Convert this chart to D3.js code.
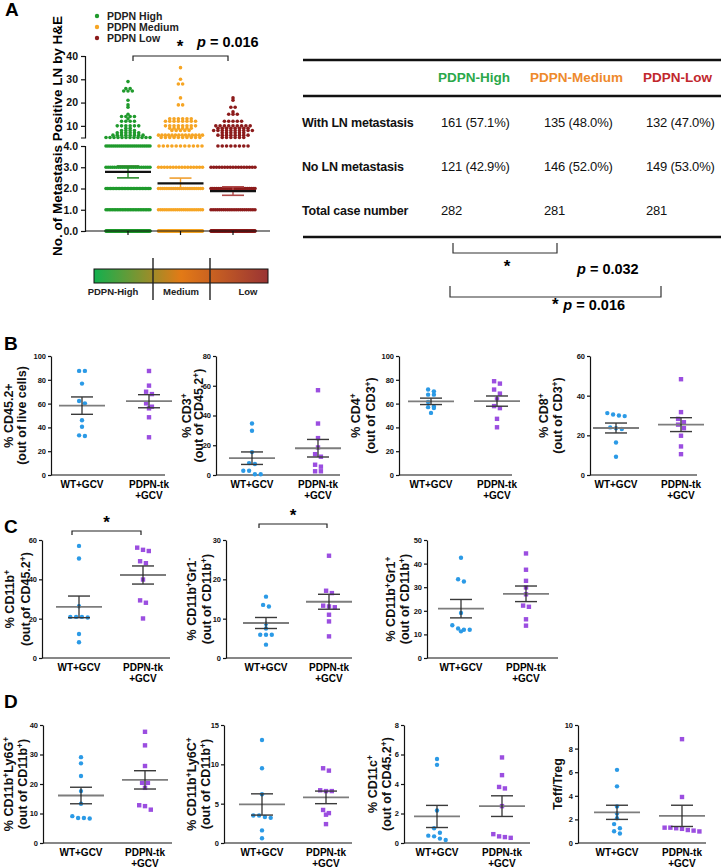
<!DOCTYPE html>
<html lang='en'>
<head>
  <meta charset='UTF-8'>
  <title>PDPN figure</title>
  <script src="https://d3js.org/d3.v7.min.js"></script>
  <style>
    body { margin: 0; background: #fff; }
    svg { display: block; font-family: 'Liberation Sans', Arial, Helvetica, sans-serif; }
  </style>
</head>
<body>
  <div id="chart"></div>
  <script>
    // ---------- Panel A : dot plot ----------
    const groupsA = ['PDPN High', 'PDPN Medium', 'PDPN Low'];
    const colorsA = ['#1f9a2c', '#f6a524', '#8c1b1b'];
    const errColorsA = ['#2a8a2a', '#f0a030', '#b04848'];
    // [positive LN, number of cases]
    const countsHigh = [[0, 121], [1, 28], [2, 30], [3, 22], [4, 24], [5, 12], [6, 8], [7, 6], [8, 4], [9, 2],
      [10, 6], [12, 4], [13, 1], [14, 4], [15, 1], [18, 1], [19, 1], [21, 1], [25, 3], [26, 2], [29, 1]];
    const countsMedium = [[0, 146], [1, 22], [2, 22], [3, 16], [4, 11], [5, 10], [6, 14], [8, 5], [9, 6],
      [10, 8], [12, 8], [13, 6], [19, 2], [22, 1], [28, 2], [30, 1], [35, 1]];
    const countsLow = [[0, 149], [1, 22], [2, 25], [3, 17], [4, 8], [5, 6], [6, 8], [7, 6], [8, 10], [9, 8],
      [10, 9], [12, 5], [15, 3], [16, 1], [18, 2], [21, 1], [22, 1]];
    const meanA = [2.78, 2.24, 1.88];
    const semA = [0.28, 0.25, 0.2];
    const ticksLowA = [0, 1, 2, 3, 4];
    const ticksHighA = [10, 20, 30, 40];

    // ---------- Panel A : table ----------
    const tableCols = ['PDPN-High', 'PDPN-Medium', 'PDPN-Low'];
    const tableColColors = ['#2aa84a', '#ee8a2c', '#c1272d'];
    const tableRows = ['With LN metastasis', 'No LN metastasis', 'Total case number'];
    const withLN = ['161 (57.1%)', '135 (48.0%)', '132 (47.0%)'];
    const noLN = ['121 (42.9%)', '146 (52.0%)', '149 (53.0%)'];
    const totals = ['282', '281', '281'];
    const barLabels = ['PDPN-High', 'Medium', 'Low'];

    // ---------- Panels B-D : WT vs PDPN-tk ----------
    const treatGroups = ['WT+GCV', 'PDPN-tk'];
    const cd45Wt = [87.5, 87.5, 76.8, 62.2, 60.2, 46, 40.6, 32.8, 33.3];
    const cd45Tk = [87.4, 75.1, 70, 68, 60.2, 57.4, 56, 48.5, 31.7];
    const cd45Stats = [[58.3, 7.3], [62.0, 5.5]]; // [mean, SEM]
    const cd3Wt = [34.6, 29.7, 15.4, 8, 7.4, 2.9, 2.9, 0.5, 0.5];
    const cd3Tk = [57, 34.6, 24.8, 18.5, 14, 12.3, 6.9, 5.6, 2.5, 2.5];
    const cd3Stats = [[11.3, 4.2], [18.0, 5.9]];
    const cd4Wt = [70.3, 71.8, 67.5, 67.5, 61.3, 57.6, 56.2, 57, 52.2];
    const cd4Tk = [78.8, 76.8, 71.8, 68.4, 63.6, 56.2, 57.9, 47.2, 40.1];
    const cd4Stats = [[61.9, 2.7], [62.1, 4.3]];
    const cd8Wt = [31.2, 30, 29.7, 30.5, 24, 23.6, 23.2, 16.4, 9.2];
    const cd8Tk = [48.3, 31.7, 28.3, 26.6, 25.4, 23.6, 19.8, 14.4, 10.5];
    const cd8Stats = [[23.7, 2.5], [25.4, 3.5]];
    const cd11bWt = [57, 50.6, 26.3, 20.9, 20.9, 20.6, 20.9, 12.2, 8];
    const cd11bTk = [56.1, 54.4, 55, 49.2, 48.2, 39.9, 29.3, 28.1, 20.1];
    const cd11bStats = [[26.0, 5.5], [42.2, 4.6]];
    const gr1NegWt = [15.6, 13.5, 13.1, 8.7, 7.5, 5.9, 5.9, 5.9, 3.4];
    const gr1NegTk = [26, 17.1, 16.5, 13.3, 12.9, 13.1, 11, 9.3, 5.5];
    const gr1NegStats = [[8.9, 1.4], [14.3, 1.9]];
    const gr1PosWt = [42.5, 33.4, 32.4, 19.1, 13.9, 12, 11.3, 12, 12.5];
    const gr1PosTk = [44.3, 37.4, 32.7, 29.9, 27, 21.7, 22.2, 16.4, 13.7];
    const gr1PosStats = [[20.9, 3.9], [27.2, 3.3]];
    const ly6gWt = [29.1, 27, 22.7, 17.6, 13.3, 8.5, 8.3, 8.5, 9.1];
    const ly6gTk = [37.7, 33.1, 26.1, 20.4, 20.4, 18.7, 12.8, 12.5, 11.3];
    const ly6gStats = [[16.1, 2.8], [21.4, 3.1]];
    const ly6cWt = [13.1, 9.5, 6.2, 3.5, 3.2, 3.3, 3.5, 1.6, 0.6];
    const ly6cTk = [9.5, 9.2, 6.7, 6.6, 6.6, 3.8, 3.6, 4.2, 2.4];
    const ly6cStats = [[4.9, 1.35], [5.8, 0.8]];
    const cd11cWt = [5.7, 5.3, 2.2, 1, 0.45, 0.7, 0.5, 0.2, 0.3];
    const cd11cTk = [5.8, 4.6, 3.7, 3.8, 2.5, 0.45, 0.35, 0.4, 0.6];
    const cd11cStats = [[1.8, 0.75], [2.5, 0.7]];
    const teffWt = [6.2, 4.8, 3.1, 2.5, 2.1, 1.6, 1.25, 1, 0.8];
    const teffTk = [8.8, 3.9, 1.3, 1.2, 0.98, 1.05, 1.25, 1.3, 1.1];
    const teffStats = [[2.6, 0.6], [2.3, 0.9]];

    const WT_COLOR = '#2b9ae6';
    const TK_COLOR = '#9b4ee0';
    const FONT_BOLD = 'bold';

    const svg = d3.select('#chart').append('svg')
      .attr('width', 721)
      .attr('height', 868);

    // superscripts are written as ^x
    function richText(text, str) {
      let raised = false;
      str.split(/(\^.)/).forEach((p) => {
        if (!p) return;
        if (p[0] === '^') {
          text.append('tspan').attr('dy', -4.5).attr('font-size', '0.68em').text(p[1]);
          raised = true;
        } else {
          text.append('tspan').attr('dy', raised ? 4.5 : 0).text(p);
          raised = false;
        }
      });
    }

    function styleAxis(g, size) {
      g.attr('font-family', null).attr('font-size', null);
      g.selectAll('text').attr('font-size', size).attr('font-weight', FONT_BOLD).attr('fill', '#111');
      g.selectAll('path, line').attr('stroke', '#111').attr('stroke-width', 1.2);
    }

    // panel letters
    [['A', 5, 16], ['B', 4, 350], ['C', 4, 533], ['D', 4, 708]].forEach(([t, x, y]) => {
      svg.append('text').attr('x', x).attr('y', y).attr('font-size', 19)
        .attr('font-weight', FONT_BOLD).text(t);
    });

    // ===== Panel A dot plot =====
    const gA = svg.append('g');
    const xA = d3.scalePoint().domain(groupsA).range([128, 233]);
    const yLow = d3.scaleLinear().domain([0, 4]).range([231, 146]);
    const yUp = d3.scaleLinear().domain([5, 40]).range([137.5, 56]);
    const yA = (v) => (v <= 4 ? yLow(v) : yUp(v));

    [countsHigh, countsMedium, countsLow].forEach((counts, gi) => {
      const cx = xA(groupsA[gi]);
      const pts = [];
      counts.forEach(([v, n]) => {
        const w = Math.min((n - 1) * 4.3, 44);
        for (let i = 0; i < n; i++) {
          pts.push({ v, x: n === 1 ? cx : cx - w / 2 + i * w / (n - 1) });
        }
      });
      gA.append('g').selectAll('circle')
        .data(pts)
        .join('circle')
        .attr('cx', (d) => d.x)
        .attr('cy', (d) => yA(d.v))
        .attr('r', 1.8)
        .attr('fill', colorsA[gi]);
    });

    groupsA.forEach((g, i) => {
      const cx = xA(g);
      const lo = yA(meanA[i] - semA[i]);
      const hi = yA(meanA[i] + semA[i]);
      gA.append('line').attr('x1', cx).attr('x2', cx).attr('y1', lo).attr('y2', hi)
        .attr('stroke', errColorsA[i]).attr('stroke-width', 1.4);
      [lo, hi].forEach((y) => {
        gA.append('line').attr('x1', cx - 11).attr('x2', cx + 11).attr('y1', y).attr('y2', y)
          .attr('stroke', errColorsA[i]).attr('stroke-width', 1.6);
      });
      gA.append('line').attr('x1', cx - 23).attr('x2', cx + 23)
        .attr('y1', yA(meanA[i])).attr('y2', yA(meanA[i]))
        .attr('stroke', '#111').attr('stroke-width', 2.2);
    });

    const axLow = gA.append('g').attr('transform', 'translate(85,0)')
      .call(d3.axisLeft(yLow).tickValues(ticksLowA).tickSize(4).tickSizeOuter(4).tickPadding(3));
    styleAxis(axLow, 10.5);
    const axUp = gA.append('g').attr('transform', 'translate(85,0)')
      .call(d3.axisLeft(yUp).tickValues(ticksHighA).tickSize(4).tickSizeOuter(4).tickPadding(3));
    styleAxis(axUp, 10.5);

    gA.append('line').attr('x1', 85).attr('x2', 270).attr('y1', 231).attr('y2', 231)
      .attr('stroke', '#111').attr('stroke-width', 1.2);
    groupsA.forEach((g) => {
      gA.append('line').attr('x1', xA(g)).attr('x2', xA(g)).attr('y1', 231).attr('y2', 235)
        .attr('stroke', '#111').attr('stroke-width', 1.2);
    });

    gA.append('text')
      .attr('transform', 'translate(62,136) rotate(-90)')
      .attr('text-anchor', 'middle')
      .attr('font-size', 13.5)
      .attr('font-weight', FONT_BOLD)
      .text('No. of Metastasis Positive LN by H&E');

    // legend
    groupsA.forEach((g, i) => {
      gA.append('circle').attr('cx', 97).attr('cy', 16 + i * 11).attr('r', 2.2).attr('fill', colorsA[i]);
      gA.append('text').attr('x', 107).attr('y', 19.5 + i * 11)
        .attr('font-size', 10.5).attr('font-weight', FONT_BOLD).attr('fill', '#222').text(g);
    });

    // significance bracket
    gA.append('path')
      .attr('d', `M${xA(groupsA[0]) + 5},61V56H${xA(groupsA[2]) - 5}V61`)
      .attr('fill', 'none').attr('stroke', '#222').attr('stroke-width', 1.2);
    gA.append('text').attr('x', 180).attr('y', 52).attr('text-anchor', 'middle')
      .attr('font-size', 17).attr('font-weight', FONT_BOLD).text('*');
    const pA = gA.append('text').attr('x', 197).attr('y', 47)
      .attr('font-size', 14.5).attr('font-weight', FONT_BOLD);
    pA.append('tspan').attr('font-style', 'italic').text('p');
    pA.append('tspan').text(' = 0.016');

    // colour bar
    const grad = svg.append('defs').append('linearGradient').attr('id', 'pdpnGrad');
    [['0%', '#12b04e'], ['50%', '#e37a16'], ['100%', '#9a3434']].forEach(([o, c]) => {
      grad.append('stop').attr('offset', o).attr('stop-color', c);
    });
    const xBar = d3.scaleLinear().domain([0, 3]).range([94, 268]);
    svg.append('rect').attr('x', xBar(0)).attr('y', 269).attr('width', xBar(3) - xBar(0)).attr('height', 14)
      .attr('fill', 'url(#pdpnGrad)').attr('stroke', '#111').attr('stroke-width', 1);
    [1, 2].forEach((k) => {
      const x = k === 1 ? 153 : 210;
      svg.append('line').attr('x1', x).attr('x2', x).attr('y1', 258).attr('y2', 300)
        .attr('stroke', '#222').attr('stroke-width', 1.4);
    });
    [113, 181, 248].forEach((x, i) => {
      svg.append('text').attr('x', x).attr('y', 294.5).attr('text-anchor', 'middle')
        .attr('font-size', 9.5).attr('font-weight', FONT_BOLD).attr('fill', '#222').text(barLabels[i]);
    });

    // ===== Panel A table =====
    const gT = svg.append('g');
    [60, 96, 237].forEach((y) => {
      gT.append('line').attr('x1', 303).attr('x2', 721).attr('y1', y).attr('y2', y)
        .attr('stroke', '#111').attr('stroke-width', 2.6);
    });
    const colX = [441, 544, 646];
    const headX = [438, 530, 643];
    tableCols.forEach((c, i) => {
      gT.append('text').attr('x', headX[i]).attr('y', 82).attr('font-size', 13.5)
        .attr('font-weight', FONT_BOLD).attr('fill', tableColColors[i]).text(c);
    });
    const rowY = [127, 171, 215];
    [withLN, noLN, totals].forEach((vals, r) => {
      gT.append('text').attr('x', 302).attr('y', rowY[r]).attr('font-size', 12.5)
        .attr('font-weight', FONT_BOLD).attr('fill', '#111').attr('letter-spacing', -0.2).text(tableRows[r]);
      vals.forEach((v, i) => {
        gT.append('text').attr('x', colX[i]).attr('y', rowY[r]).attr('font-size', 13)
          .attr('fill', '#111').attr('letter-spacing', -0.2).text(v);
      });
    });
    gT.append('path').attr('d', 'M453,243V253H557V243')
      .attr('fill', 'none').attr('stroke', '#333').attr('stroke-width', 1.2);
    gT.append('text').attr('x', 507).attr('y', 272).attr('text-anchor', 'middle')
      .attr('font-size', 17).attr('font-weight', FONT_BOLD).text('*');
    const p1 = gT.append('text').attr('x', 577).attr('y', 274).attr('font-size', 14.5).attr('font-weight', FONT_BOLD);
    p1.append('tspan').attr('font-style', 'italic').text('p');
    p1.append('tspan').text(' = 0.032');
    gT.append('path').attr('d', 'M450,286V297H661V286')
      .attr('fill', 'none').attr('stroke', '#333').attr('stroke-width', 1.2);
    const p2 = gT.append('text').attr('x', 552).attr('y', 310).attr('font-size', 14.5).attr('font-weight', FONT_BOLD);
    p2.append('tspan').attr('font-size', 17).text('* ');
    p2.append('tspan').attr('font-style', 'italic').text('p');
    p2.append('tspan').text(' = 0.016');

    // ===== Panels B-D =====
    const rowB = { top: 356, zero: 475 };
    const rowC = { top: 540, zero: 658 };
    const rowD = { top: 725, zero: 843 };

    const plots = [
      { row: rowB, wt: cd45Wt, tk: cd45Tk, stats: cd45Stats, max: 100, step: 20, ax: 51, x0: 82, x1: 149, end: 165, lab: [13, 26], text: ['% CD45.2+', '(out of live cells)'] },
      { row: rowB, wt: cd3Wt, tk: cd3Tk, stats: cd3Stats, max: 80, step: 20, ax: 216, x0: 252, x1: 318, end: 340, lab: [191, 203], text: ['% CD3^+', '(out of CD45.2^+)'] },
      { row: rowB, wt: cd4Wt, tk: cd4Tk, stats: cd4Stats, max: 100, step: 20, ax: 399, x0: 431, x1: 497, end: 512, lab: [360, 375], text: ['% CD4^+', '(out of CD3^+)'] },
      { row: rowB, wt: cd8Wt, tk: cd8Tk, stats: cd8Stats, max: 60, step: 20, ax: 590, x0: 616, x1: 681, end: 697, lab: [548, 562], text: ['% CD8^+', '(out of CD3^+)'] },
      { row: rowC, wt: cd11bWt, tk: cd11bTk, stats: cd11bStats, max: 60, step: 20, ax: 42, x0: 79, x1: 143, end: 170, lab: [14, 30], text: ['% CD11b^+', '(out of CD45.2^+)'], sig: 531 },
      { row: rowC, wt: gr1NegWt, tk: gr1NegTk, stats: gr1NegStats, max: 30, step: 10, ax: 226, x0: 266, x1: 329, end: 352, lab: [196, 211], text: ['% CD11b^+Gr1^-', '(out of CD11b^+)'], sig: 524 },
      { row: rowC, wt: gr1PosWt, tk: gr1PosTk, stats: gr1PosStats, max: 50, step: 10, ax: 427, x0: 461, x1: 526, end: 558, lab: [395, 409], text: ['% CD11b^+Gr1^+', '(out of CD11b^+)'] },
      { row: rowD, wt: ly6gWt, tk: ly6gTk, stats: ly6gStats, max: 40, step: 10, ax: 43, x0: 81, x1: 145, end: 172, lab: [13, 27], text: ['% CD11b^+Ly6G^+', '(out of CD11b^+)'] },
      { row: rowD, wt: ly6cWt, tk: ly6cTk, stats: ly6cStats, max: 15, step: 5, ax: 224, x0: 262, x1: 326, end: 352, lab: [196, 210], text: ['% CD11b^+Ly6C^+', '(out of CD11b^+)'] },
      { row: rowD, wt: cd11cWt, tk: cd11cTk, stats: cd11cStats, max: 8, step: 2, ax: 404, x0: 437, x1: 502, end: 530, lab: [377, 391], text: ['% CD11c^+', '(out of CD45.2^+)'] },
      { row: rowD, wt: teffWt, tk: teffTk, stats: teffStats, max: 10, step: 2, ax: 578, x0: 617, x1: 682, end: 706, lab: [562], text: ['Teff/Treg'] },
    ];

    // spread points with close y values side by side
    function swarm(values, y, cx) {
      const pts = values.map((v) => ({ v, py: y(v) })).sort((a, b) => a.py - b.py);
      const clusters = [];
      pts.forEach((p) => {
        const c = clusters[clusters.length - 1];
        if (c && p.py - c[0].py < 4.5) c.push(p);
        else clusters.push([p]);
      });
      clusters.forEach((c) => c.forEach((p, i) => { p.px = cx + (i - (c.length - 1) / 2) * 5.8; }));
      return pts;
    }

    plots.forEach((p) => {
      const g = svg.append('g');
      const y = d3.scaleLinear().domain([0, p.max]).range([p.row.zero, p.row.top]);
      const x = d3.scalePoint().domain(treatGroups).range([p.x0, p.x1]);

      const axis = g.append('g').attr('transform', `translate(${p.ax},0)`)
        .call(d3.axisLeft(y).tickValues(d3.range(0, p.max + p.step / 2, p.step))
          .tickSize(3).tickSizeOuter(0).tickPadding(2));
      styleAxis(axis, 7.5);
      g.append('line').attr('x1', p.ax).attr('x2', p.end).attr('y1', p.row.zero).attr('y2', p.row.zero)
        .attr('stroke', '#111').attr('stroke-width', 1.2);

      // WT circles
      g.append('g').selectAll('circle')
        .data(swarm(p.wt, y, x(treatGroups[0])))
        .join('circle')
        .attr('cx', (d) => d.px).attr('cy', (d) => d.py).attr('r', 2.2).attr('fill', WT_COLOR);
      // PDPN-tk squares
      g.append('g').selectAll('rect')
        .data(swarm(p.tk, y, x(treatGroups[1])))
        .join('rect')
        .attr('x', (d) => d.px - 2.2).attr('y', (d) => d.py - 2.2)
        .attr('width', 4.4).attr('height', 4.4).attr('fill', TK_COLOR);

      // mean and SEM
      treatGroups.forEach((t, i) => {
        const cx = x(t);
        const [m, s] = p.stats[i];
        g.append('line').attr('x1', cx - 23).attr('x2', cx + 23).attr('y1', y(m)).attr('y2', y(m))
          .attr('stroke', '#7d7d7d').attr('stroke-width', 1.8);
        g.append('line').attr('x1', cx).attr('x2', cx).attr('y1', y(m - s)).attr('y2', y(m + s))
          .attr('stroke', '#222').attr('stroke-width', 1.2);
        [m - s, m + s].forEach((v) => {
          g.append('line').attr('x1', cx - 11).attr('x2', cx + 11).attr('y1', y(v)).attr('y2', y(v))
            .attr('stroke', '#3a3a3a').attr('stroke-width', 1.4);
        });
      });

      // category labels
      g.append('text').attr('x', x(treatGroups[0])).attr('y', p.row.zero + 13)
        .attr('text-anchor', 'middle').attr('font-size', 10).attr('font-weight', FONT_BOLD).text(treatGroups[0]);
      g.append('text').attr('x', x(treatGroups[1])).attr('y', p.row.zero + 13)
        .attr('text-anchor', 'middle').attr('font-size', 10).attr('font-weight', FONT_BOLD).text(treatGroups[1]);
      g.append('text').attr('x', x(treatGroups[1])).attr('y', p.row.zero + 24)
        .attr('text-anchor', 'middle').attr('font-size', 10).attr('font-weight', FONT_BOLD).text('+GCV');

      // y labels
      const midY = (p.row.top + p.row.zero) / 2;
      p.text.forEach((t, k) => {
        const tx = g.append('text')
          .attr('transform', `translate(${p.lab[k]},${midY}) rotate(-90)`)
          .attr('text-anchor', 'middle').attr('font-size', 12.5).attr('font-weight', FONT_BOLD).attr('fill', '#111');
        richText(tx, t);
      });

      // significance bracket
      if (p.sig) {
        const l = x(treatGroups[0]) - 7;
        const r = x(treatGroups[1]) - 2;
        g.append('path').attr('d', `M${l},${p.sig + 4}V${p.sig}H${r}V${p.sig + 4}`)
          .attr('fill', 'none').attr('stroke', '#222').attr('stroke-width', 1.2);
        g.append('text').attr('x', (l + r) / 2).attr('y', p.sig - 3).attr('text-anchor', 'middle')
          .attr('font-size', 17).attr('font-weight', FONT_BOLD).text('*');
      }
    });
  </script>
</body>
</html>
